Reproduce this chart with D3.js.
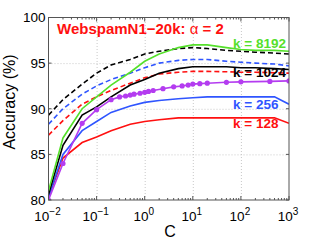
<!DOCTYPE html>
<html>
<head>
<script src="https://cdn.jsdelivr.net/npm/d3@7"></script>
<style>
  body { margin: 0; background: #fff; }
  svg { display: block; font-family: 'Liberation Sans', Arial, sans-serif; }
  .grid line { stroke: #c8c8c8; stroke-dasharray: 1,2; }
  .grid path { display: none; }
</style>
</head>
<body>
<script>
// C values used for the solid / dashed curves
var C = [0.01, 0.02, 0.05, 0.1, 0.2, 0.5, 1, 2, 5, 10, 20, 50, 100, 200, 500, 1000];

var k8192  = [81.0, 86.8, 90.0, 91.3, 92.6, 94.0, 95.2, 96.0, 96.7, 97.0, 97.0, 96.7, 96.5, 96.4, 96.4, 96.3];
var k1024  = [80.6, 86.0, 89.3, 90.2, 91.3, 92.6, 93.2, 93.9, 94.4, 94.6, 94.6, 94.6, 94.5, 94.5, 94.4, 94.3];
var k256   = [80.3, 85.0, 87.6, 88.6, 89.6, 90.3, 90.7, 90.9, 91.1, 91.2, 91.3, 91.3, 91.3, 91.3, 91.3, 90.5];
var k128   = [80.3, 84.6, 86.3, 86.9, 87.6, 88.3, 88.6, 88.8, 89.0, 89.0, 89.0, 89.0, 89.0, 89.0, 89.0, 88.4];

// dashed curves
var k1024d = [89.3, 91.0, 92.7, 93.9, 94.8, 95.4, 96.0, 96.3, 96.6, 96.7, 96.6, 96.4, 96.3, 96.2, 96.1, 96.0];
var k256d  = [88.3, 90.0, 91.6, 92.5, 93.2, 93.9, 94.5, 95.0, 95.3, 95.4, 95.4, 95.2, 95.1, 95.0, 94.9, 94.7];
var k128d  = [87.1, 88.7, 90.5, 91.3, 92.0, 92.8, 93.4, 93.8, 94.0, 94.1, 94.1, 94.05, 94.0, 94.0, 93.95, 93.9];

// purple curve with markers
var Cm   = [0.01, 0.02, 0.05, 0.1, 0.2, 0.3, 0.4, 0.5, 0.6, 0.8, 1, 1.2, 1.5, 2.4, 4, 6, 8, 10, 14, 20, 50, 100, 400, 1000];
var kM   = [80.0, 84.0, 88.4, 89.9, 91.0, 91.3, 91.4, 91.5, 91.6, 91.7, 91.8, 91.9, 92.0, 92.2, 92.4, 92.5, 92.6, 92.7, 92.75, 92.8, 92.9, 92.95, 93.0, 93.05];

var yTicks = [80, 85, 90, 95, 100];
var xTicks = [0.01, 0.1, 1, 10, 100, 1000];
var xExp   = ["\u22122", "\u22121", "0", "1", "2", "3"];

var W = 319, H = 240;
var pL = 48.5, pR = 289, pT = 17.5, pB = 200;

var svg = d3.select("body").append("svg")
    .attr("width", W).attr("height", H);

var x = d3.scaleLog().domain([0.01, 1000]).range([pL, pR]);
var y = d3.scaleLinear().domain([80, 100]).range([pB, pT]);

// grid
svg.append("g").attr("class", "grid")
    .attr("transform", "translate(0," + pB + ")")
    .call(d3.axisBottom(x).tickValues(xTicks.slice(1, -1)).tickSize(-(pB - pT)).tickFormat(""));
svg.append("g").attr("class", "grid")
    .attr("transform", "translate(" + pL + ",0)")
    .call(d3.axisLeft(y).tickValues(yTicks.slice(1, -1)).tickSize(-(pR - pL)).tickFormat(""));

svg.append("clipPath").attr("id", "clip")
  .append("rect").attr("x", pL).attr("y", pT - 1)
    .attr("width", pR - pL).attr("height", pB - pT + 1);

var plot = svg.append("g").attr("clip-path", "url(#clip)");

var line = d3.line()
    .x(function(d) { return x(d[0]); })
    .y(function(d) { return y(d[1]); });

function draw(xs, ys, color, dashed) {
  plot.append("path")
    .datum(d3.zip(xs, ys))
    .attr("d", line)
    .attr("fill", "none")
    .attr("stroke", color)
    .attr("stroke-width", 1.6)
    .attr("stroke-dasharray", dashed ? "5,3" : null);
}

draw(C, k1024d, "#000000", true);
draw(C, k256d, "#2f55ff", true);
draw(C, k128d, "#ff1010", true);
draw(C, k128, "#ff1010", false);
draw(C, k256, "#2f55ff", false);
draw(Cm, kM, "#b43cf0", false);
draw(C, k1024, "#000000", false);
draw(C, k8192, "#55e02b", false);

plot.selectAll(".dot")
    .data(d3.zip(Cm, kM))
  .enter().append("circle")
    .attr("cx", function(d) { return x(d[0]); })
    .attr("cy", function(d) { return y(d[1]); })
    .attr("r", 2.6)
    .attr("fill", "#b43cf0");

// box and ticks
var axisColor = "#555";
svg.append("rect")
    .attr("x", pL).attr("y", pT)
    .attr("width", pR - pL).attr("height", pB - pT)
    .attr("fill", "none").attr("stroke", axisColor).attr("stroke-width", 1);

var minor = [];
xTicks.slice(0, -1).forEach(function(t) {
  for (var m = 2; m < 10; m++) minor.push(t * m);
});

function ticksX(vals, len) {
  vals.forEach(function(v) {
    svg.append("line").attr("x1", x(v)).attr("x2", x(v))
      .attr("y1", pB).attr("y2", pB - len).attr("stroke", axisColor);
    svg.append("line").attr("x1", x(v)).attr("x2", x(v))
      .attr("y1", pT).attr("y2", pT + len).attr("stroke", axisColor);
  });
}
ticksX(xTicks, 4);
ticksX(minor, 2);

yTicks.forEach(function(v) {
  svg.append("line").attr("x1", pL).attr("x2", pL + 3)
    .attr("y1", y(v)).attr("y2", y(v)).attr("stroke", axisColor);
  svg.append("line").attr("x1", pR).attr("x2", pR - 3)
    .attr("y1", y(v)).attr("y2", y(v)).attr("stroke", axisColor);
});

// tick labels
svg.selectAll(".ylab")
    .data(yTicks)
  .enter().append("text")
    .attr("x", pL - 3)
    .attr("y", function(d) { return y(d); })
    .attr("dy", "0.36em")
    .attr("text-anchor", "end")
    .attr("font-size", 13.5)
    .text(function(d) { return d; });

xTicks.forEach(function(t, i) {
  var tx = svg.append("text")
    .attr("x", x(t) - 1)
    .attr("y", 220.5)
    .attr("text-anchor", "middle")
    .attr("font-size", 13.5);
  tx.append("tspan").text("10");
  tx.append("tspan").attr("dy", -6).attr("font-size", 10).text(xExp[i]);
});

// axis titles
svg.append("text")
    .attr("x", 170).attr("y", 236.5)
    .attr("text-anchor", "middle")
    .attr("font-size", 16)
    .text("C");

svg.append("text")
    .attr("transform", "translate(15,102) rotate(-90)")
    .attr("text-anchor", "middle")
    .attr("font-size", 16)
    .text("Accuracy (%)");

// title
var title = svg.append("text")
    .attr("x", 57).attr("y", 33.5)
    .attr("fill", "#ff1010")
    .attr("font-size", 15)
    .attr("font-weight", "bold");
title.append("tspan").text("WebspamN1\u221220k: ");
title.append("tspan").attr("font-weight", "normal").text("\u03b1");
title.append("tspan").text(" = 2");

// curve labels
var labels = [
  { t: "k = 8192", c: "#55e02b", y: 48.3 },
  { t: "k = 1024", c: "#000000", y: 76.7 },
  { t: "k = 256",  c: "#2f55ff", y: 109 },
  { t: "k = 128",  c: "#ff1010", y: 128.3 }
];
svg.selectAll(".klab")
    .data(labels)
  .enter().append("text")
    .attr("x", 233)
    .attr("y", function(d) { return d.y; })
    .attr("fill", function(d) { return d.c; })
    .attr("font-size", 13.5)
    .attr("font-weight", "bold")
    .text(function(d) { return d.t; });
</script>
</body>
</html>
